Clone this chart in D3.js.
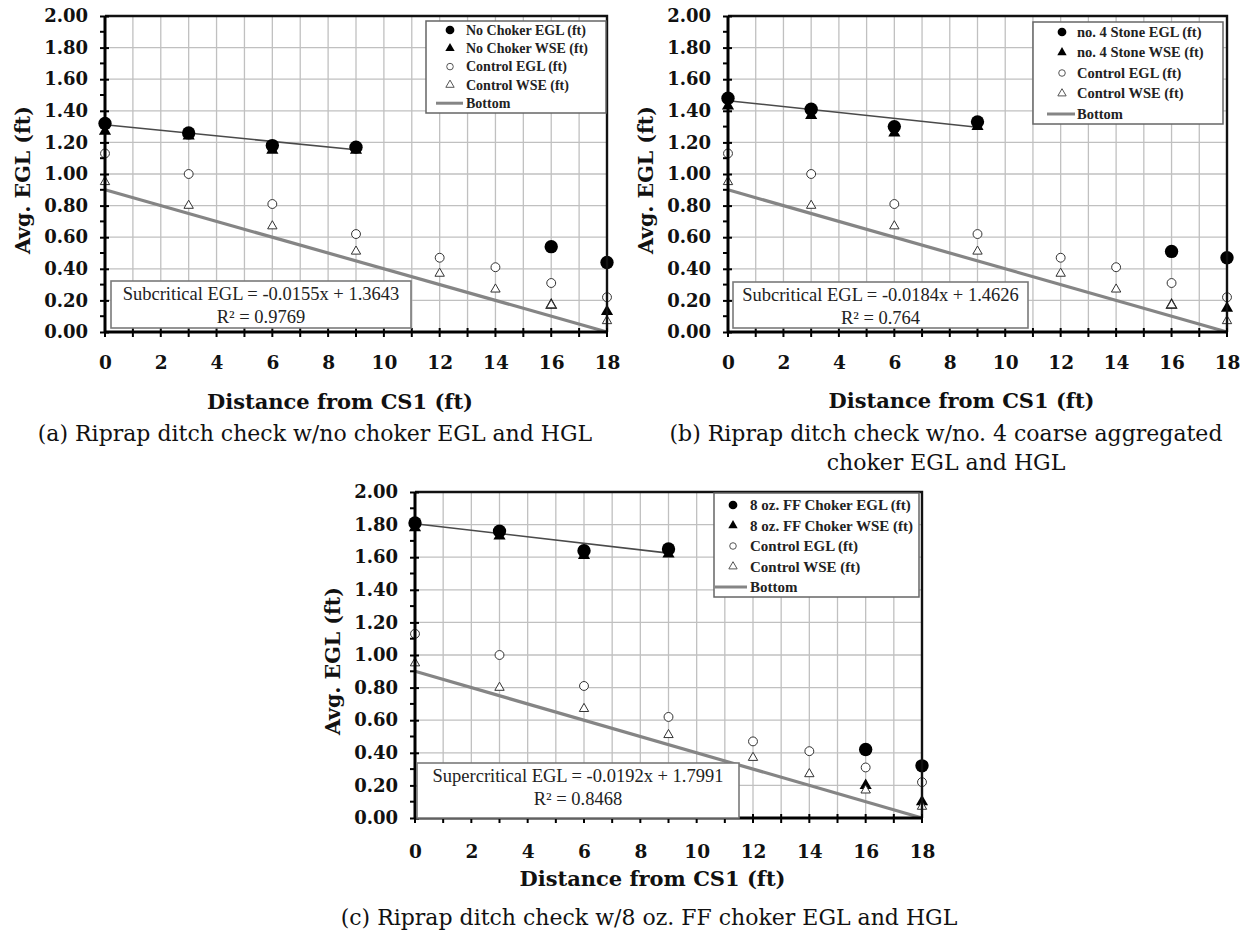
<!DOCTYPE html>
<html><head><meta charset="utf-8">
<script src="https://cdn.jsdelivr.net/npm/d3@7"></script>
<style>body{margin:0;background:#fff} svg{display:block}</style>
</head><body>
<svg id="chart" width="1250" height="932"></svg>
<script>
// ---------------- data ----------------
const distControl = [0, 3, 6, 9, 12, 14, 16, 18];
const controlEGL  = [1.13, 1.00, 0.81, 0.62, 0.47, 0.41, 0.31, 0.22];
const controlWSE  = [0.95, 0.80, 0.67, 0.51, 0.37, 0.27, 0.17, 0.07];

const distChoker  = [0, 3, 6, 9, 16, 18];
const noChokerEGL = [1.32, 1.26, 1.18, 1.17, 0.54, 0.44];
const noChokerWSE = [1.27, 1.24, 1.15, 1.15, 0.17, 0.13];
const stoneEGL    = [1.48, 1.41, 1.30, 1.33, 0.51, 0.47];
const stoneWSE    = [1.43, 1.37, 1.26, 1.30, 0.17, 0.15];
const ffEGL       = [1.81, 1.76, 1.64, 1.65, 0.42, 0.32];
const ffWSE       = [1.78, 1.73, 1.61, 1.62, 0.20, 0.10];

const bottomX = [0, 18];
const bottomY = [0.90, 0.00];

const xTickValues = [0, 2, 4, 6, 8, 10, 12, 14, 16, 18];
const yTickValues = [0, 0.2, 0.4, 0.6, 0.8, 1.0, 1.2, 1.4, 1.6, 1.8, 2.0];

const legendA = ["No Choker EGL (ft)", "No Choker WSE (ft)", "Control EGL (ft)", "Control WSE (ft)", "Bottom"];
const legendB = ["no. 4 Stone EGL (ft)", "no. 4 Stone WSE (ft)", "Control EGL (ft)", "Control WSE (ft)", "Bottom"];
const legendC = ["8 oz. FF Choker EGL (ft)", "8 oz. FF Choker WSE (ft)", "Control EGL (ft)", "Control WSE (ft)", "Bottom"];

const equations = ["Subcritical EGL = -0.0155x + 1.3643", "Subcritical EGL = -0.0184x + 1.4626", "Supercritical EGL = -0.0192x + 1.7991"];
const r2Labels  = ["R\u00B2 = 0.9769", "R\u00B2 = 0.764", "R\u00B2 = 0.8468"];
const captionA = ["(a) Riprap ditch check w/no choker EGL and HGL"];
const captionB = ["(b) Riprap ditch check w/no. 4 coarse aggregated", "choker EGL and HGL"];
const captionC = ["(c) Riprap ditch check w/8 oz. FF choker EGL and HGL"];
const xTitle = "Distance from CS1 (ft)";
const yTitle = "Avg. EGL (ft)";

// ---------------- drawing ----------------
const svg = d3.select("#chart");
const BOLD = "'DejaVu Serif', serif";
const LEG = "'Liberation Serif', 'Times New Roman', serif";

function linFit(xs, ys) {
  const n = xs.length, mx = d3.mean(xs), my = d3.mean(ys);
  let sxy = 0, sxx = 0;
  for (let i = 0; i < n; i++) { sxy += (xs[i]-mx)*(ys[i]-my); sxx += (xs[i]-mx)**2; }
  const b = sxy / sxx; return {b, a: my - b*mx};
}

function drawPanel(cfg) {
  const g = svg.append("g");
  const x = d3.scaleLinear().domain([0, 18]).range([cfg.x0, cfg.x1]);
  const y = d3.scaleLinear().domain([0, 2]).range([cfg.y1, cfg.y0]);

  // grid
  g.append("g").selectAll("line").data(d3.range(1, 18)).join("line")
    .attr("x1", d => x(d)).attr("x2", d => x(d)).attr("y1", cfg.y0).attr("y2", cfg.y1)
    .attr("stroke", "#c0c0c0").attr("stroke-width", 1.3);
  g.append("g").selectAll("line").data(yTickValues.slice(1, -1)).join("line")
    .attr("x1", cfg.x0).attr("x2", cfg.x1).attr("y1", d => y(d)).attr("y2", d => y(d))
    .attr("stroke", "#c0c0c0").attr("stroke-width", 1.3);

  // bottom line
  g.append("path").datum(d3.zip(bottomX, bottomY))
    .attr("d", d3.line().x(d => x(d[0])).y(d => y(d[1])))
    .attr("fill", "none").attr("stroke", "#858585").attr("stroke-width", 3.2);

  // trend line from subcritical points (x <= 9)
  const sx = [], sy = [];
  distChoker.forEach((d, i) => { if (d <= 9) { sx.push(d); sy.push(cfg.egl[i]); } });
  const fit = linFit(sx, sy);
  g.append("line").attr("x1", x(0)).attr("y1", y(fit.a)).attr("x2", x(9)).attr("y2", y(fit.a + fit.b*9))
    .attr("stroke", "#4a4a4a").attr("stroke-width", 1.6);

  // markers
  const circBig = d3.symbol().type(d3.symbolCircle).size(140)();
  const triBig = d3.symbol().type(d3.symbolTriangle).size(64)();
  const circSm = d3.symbol().type(d3.symbolCircle).size(62)();
  const triSm = d3.symbol().type(d3.symbolTriangle).size(38)();
  g.append("g").selectAll("path").data(d3.zip(distChoker, cfg.egl)).join("path")
    .attr("d", circBig).attr("transform", d => `translate(${x(d[0])},${y(d[1])})`).attr("fill", "#000");
  g.append("g").selectAll("path").data(d3.zip(distChoker, cfg.wse)).join("path")
    .attr("d", triBig).attr("transform", d => `translate(${x(d[0])},${y(d[1])})`).attr("fill", "#000");
  g.append("g").selectAll("path").data(d3.zip(distControl, controlEGL)).join("path")
    .attr("d", circSm).attr("transform", d => `translate(${x(d[0])},${y(d[1])})`)
    .attr("fill", "#fff").attr("stroke", "#333").attr("stroke-width", 1);
  g.append("g").selectAll("path").data(d3.zip(distControl, controlWSE)).join("path")
    .attr("d", triSm).attr("transform", d => `translate(${x(d[0])},${y(d[1])})`)
    .attr("fill", "#fff").attr("stroke", "#333").attr("stroke-width", 1);

  // border top/right
  g.append("path").attr("d", `M${cfg.x0},${cfg.y0}H${cfg.x1}V${cfg.y1}`)
    .attr("fill", "none").attr("stroke", "#111").attr("stroke-width", 2.4);

  // axes
  const yAxis = d3.axisLeft(y).tickValues(yTickValues).tickFormat(d3.format(".2f")).tickSize(5).tickPadding(12);
  const ya = g.append("g").attr("transform", `translate(${cfg.x0},0)`).call(yAxis);
  ya.selectAll(".tick line").attr("x2", -5).attr("x1", 4).attr("stroke-width", 2);
  ya.append("g").selectAll("line").data(d3.range(0.1, 2, 0.2)).join("line")
    .attr("x1", -5).attr("x2", 0).attr("y1", d => y(d)).attr("y2", d => y(d)).attr("stroke", "#000").attr("stroke-width", 2);
  ya.select(".domain").attr("stroke-width", 3).attr("d", `M0,${cfg.y1}V${cfg.y0}`);
  ya.selectAll("text").attr("font-family", BOLD).attr("font-weight", "bold").attr("font-size", 18).attr("fill", "#111");

  const xAxis = d3.axisBottom(x).tickValues(xTickValues).tickFormat(d3.format("d")).tickSize(0).tickPadding(0);
  const xa = g.append("g").attr("transform", `translate(0,${cfg.y1})`).call(xAxis);
  xa.select(".domain").attr("stroke-width", 3).attr("d", `M${cfg.x0},0H${cfg.x1}`);
  xa.append("g").selectAll("line").data(d3.range(0, 19)).join("line")
    .attr("x1", d => x(d)).attr("x2", d => x(d)).attr("y1", -4).attr("y2", 5).attr("stroke", "#000").attr("stroke-width", 2);
  xa.selectAll(".tick text").attr("y", cfg.tickDy).attr("dy", "0.36em")
    .attr("font-family", BOLD).attr("font-weight", "bold").attr("font-size", 18.5).attr("fill", "#111");

  // titles
  g.append("text").attr("x", (cfg.x0 + cfg.x1)/2 - 16).attr("y", cfg.y1 + cfg.titleDy).attr("dy", "0.36em")
    .attr("text-anchor", "middle").attr("font-family", BOLD).attr("font-weight", "bold").attr("font-size", 21)
    .attr("fill", "#111").text(xTitle);
  g.append("text").attr("transform", `translate(${cfg.x0 - 82},${(cfg.y0 + cfg.y1)/2 + 6}) rotate(-90)`)
    .attr("dy", "0.36em").attr("text-anchor", "middle").attr("font-family", BOLD).attr("font-weight", "bold")
    .attr("font-size", 20.5).attr("fill", "#111").text(yTitle);

  // captions
  cfg.caption.forEach((c, i) => {
    g.append("text").attr("x", cfg.capX).attr("y", cfg.y1 + cfg.capDy + i*29).attr("dy", "0.36em")
      .attr("text-anchor", "middle").attr("font-family", "'DejaVu Serif', serif").attr("font-size", 22)
      .attr("fill", "#111").text(c);
  });

  // equation box
  const eb = cfg.eqBox;
  g.append("rect").attr("x", eb[0]).attr("y", eb[2]).attr("width", eb[1]-eb[0]).attr("height", eb[3]-eb[2])
    .attr("fill", "#fff").attr("stroke", "#7a7a7a").attr("stroke-width", 1.6);
  g.append("text").attr("x", (eb[0]+eb[1])/2).attr("y", eb[2] + 12).attr("dy", "0.36em").attr("text-anchor", "middle")
    .attr("font-family", LEG).attr("font-size", 18.5).attr("fill", "#222").text(cfg.eq);
  g.append("text").attr("x", (eb[0]+eb[1])/2).attr("y", eb[2] + 35).attr("dy", "0.36em").attr("text-anchor", "middle")
    .attr("font-family", LEG).attr("font-size", 18.5).attr("fill", "#222").text(cfg.r2);

  // legend
  const lb = cfg.legBox;
  g.append("rect").attr("x", lb[0]).attr("y", lb[2]).attr("width", lb[1]-lb[0]).attr("height", lb[3]-lb[2])
    .attr("fill", "#fff").attr("stroke", "#666").attr("stroke-width", 1.5);
  const legSyms = [
    {d: d3.symbol().type(d3.symbolCircle).size(60)(), fill: "#000", stroke: "none"},
    {d: d3.symbol().type(d3.symbolTriangle).size(38)(), fill: "#000", stroke: "none"},
    {d: d3.symbol().type(d3.symbolCircle).size(34)(), fill: "#fff", stroke: "#555"},
    {d: d3.symbol().type(d3.symbolTriangle).size(30)(), fill: "#fff", stroke: "#555"}
  ];
  cfg.legend.forEach((t, i) => {
    const yy = cfg.legRow0 + i*cfg.legStep;
    if (i < 4) {
      g.append("path").attr("d", legSyms[i].d).attr("transform", `translate(${cfg.legMX},${yy})`)
        .attr("fill", legSyms[i].fill).attr("stroke", legSyms[i].stroke).attr("stroke-width", 1);
    } else {
      g.append("line").attr("x1", cfg.legLine[0]).attr("x2", cfg.legLine[1]).attr("y1", yy).attr("y2", yy)
        .attr("stroke", "#858585").attr("stroke-width", 3);
    }
    g.append("text").attr("x", cfg.legTX).attr("y", yy).attr("dy", "0.34em")
      .attr("font-family", LEG).attr("font-weight", "bold").attr("font-size", cfg.legFont)
      .attr("fill", "#222").text(t);
  });
}

drawPanel({x0: 105, x1: 607, y0: 16, y1: 332, egl: noChokerEGL, wse: noChokerWSE,
  tickDy: 30, titleDy: 69, capDy: 101, capX: 315, caption: captionA,
  eq: equations[0], r2: r2Labels[0], eqBox: [111, 411, 281, 328],
  legend: legendA, legBox: [426, 606, 21, 113], legRow0: 30, legStep: 18.3, legMX: 450, legTX: 466, legLine: [436, 463], legFont: 14});

drawPanel({x0: 728, x1: 1227, y0: 16, y1: 332, egl: stoneEGL, wse: stoneWSE,
  tickDy: 30, titleDy: 68, capDy: 101, capX: 946, caption: captionB,
  eq: equations[1], r2: r2Labels[1], eqBox: [733, 1028, 282, 328],
  legend: legendB, legBox: [1033, 1223, 22, 124], legRow0: 32, legStep: 20.5, legMX: 1062, legTX: 1077, legLine: [1047, 1075], legFont: 14.5});

drawPanel({x0: 415, x1: 922, y0: 492, y1: 818, egl: ffEGL, wse: ffWSE,
  tickDy: 33, titleDy: 60, capDy: 99, capX: 649, caption: captionC,
  eq: equations[2], r2: r2Labels[2], eqBox: [417, 739, 763, 818],
  legend: legendC, legBox: [714, 919, 493, 597], legRow0: 505, legStep: 20.5, legMX: 733, legTX: 750, legLine: [715, 747], legFont: 15});
</script>
</body></html>
